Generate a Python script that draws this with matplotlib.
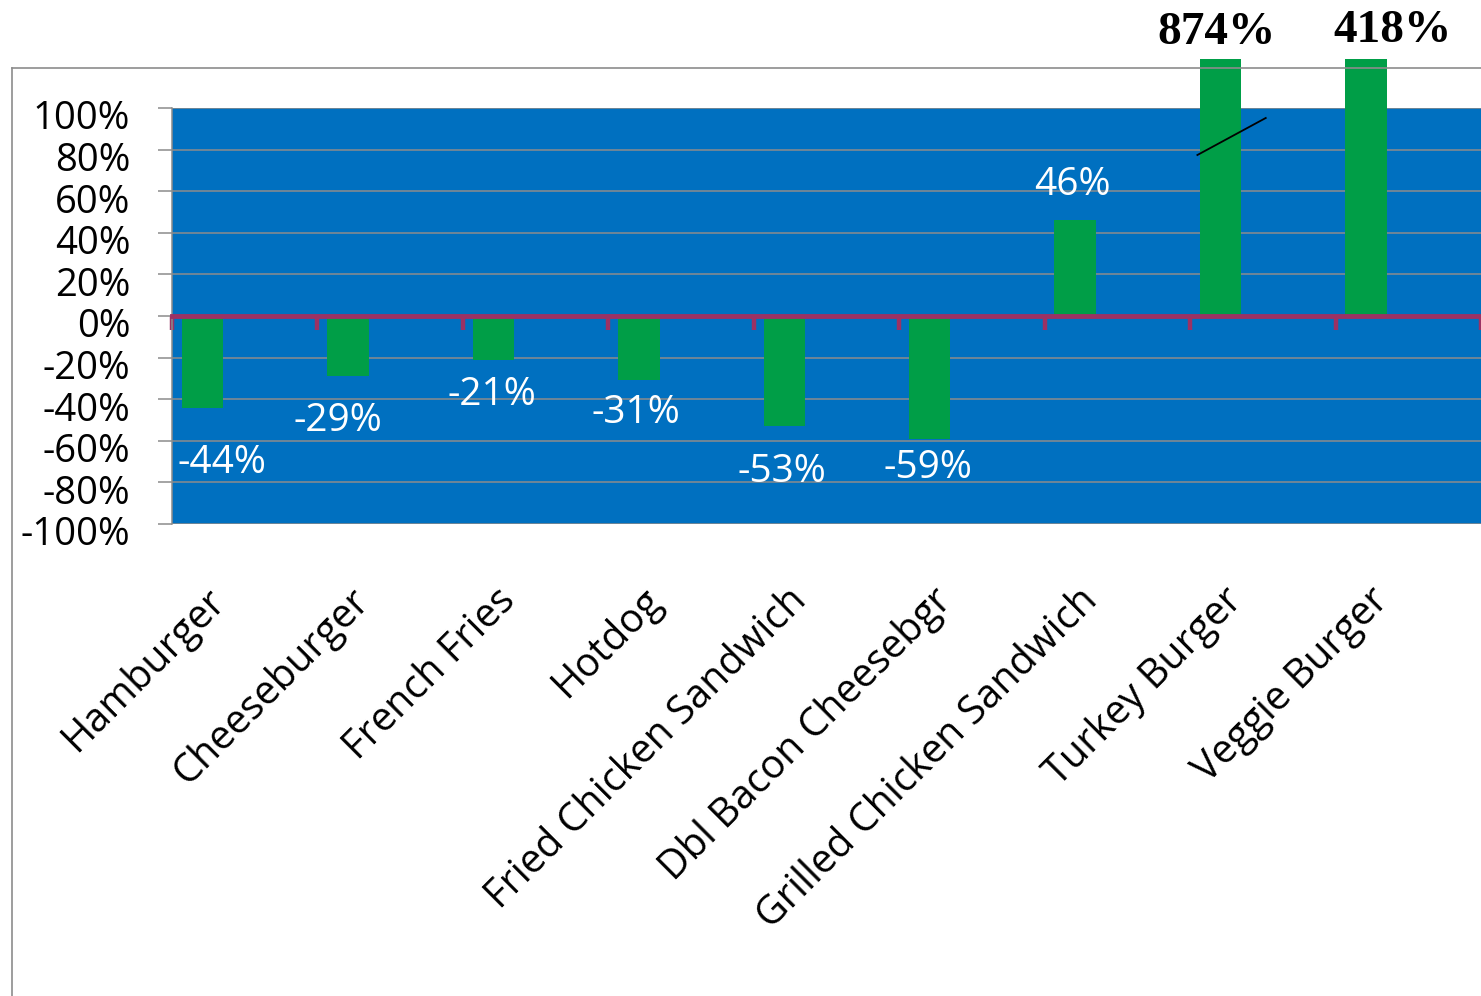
import numpy as np
import matplotlib
matplotlib.use("Agg")
import matplotlib.pyplot as plt
from matplotlib.lines import Line2D
from matplotlib.transforms import ScaledTranslation

# data
categories = ["Hamburger", "Cheeseburger", "French Fries", "Hotdog",
              "Fried Chicken Sandwich", "Dbl Bacon Cheesebgr",
              "Grilled Chicken Sandwich", "Turkey Burger", "Veggie Burger"]
changes = [-0.44, -0.29, -0.21, -0.31, -0.53, -0.59, 0.46, 8.74, 4.18]
labels = ["-44%", "-29%", "-21%", "-31%", "-53%", "-59%", "46%", "874%", "418%"]

# where excel dropped the data labels (offset from category centre, y in data)
label_dx = [-0.16, -0.36, -0.30, -0.31, -0.31, -0.30, -0.31, -0.32, -0.11]
label_y = [-0.705, -0.505, -0.38, -0.465, -0.75, -0.73, 0.63, 1.36, 1.37]

BLUE = "#0070C0"
GREEN = "#009E47"
AXIS = "#9B3264"
GRID = "#8C8C8C"
CAP = 1.235  # big bars are cut off above the plot

plt.rcParams['font.family'] = ['Open Sans', 'DejaVu Sans']

fig = plt.figure(figsize=(14.81, 9.96), dpi=100)
ax = fig.add_axes([172/1481, 1 - 524/996, 1 - 172/1481, 416/996])
ax.set_facecolor(BLUE)

x = np.arange(len(categories))
heights = np.minimum(np.array(changes), CAP)
ax.bar(x - 0.29, heights, width=0.285, color=GREEN, zorder=3, clip_on=False)

ax.set_xlim(-0.5, len(categories) - 0.5)
ax.set_ylim(-1, 1)
yt = np.linspace(-1, 1, 11)
ax.set_yticks(yt)
ax.set_yticklabels([f"{int(round(v*100))}%" for v in yt], fontsize=27.5)
ax.yaxis.grid(True, color=GRID, lw=1.1, zorder=1)
ax.tick_params(axis='y', length=10, color=GRID, width=1.1, pad=20)
shift = ScaledTranslation(0, -5/72, fig.dpi_scale_trans)
for lab in ax.get_yticklabels():
    lab.set_transform(lab.get_transform() + shift)

# zero line with ticks between categories
ax.spines['bottom'].set_position(('data', 0))
ax.spines['bottom'].set_color(AXIS)
ax.spines['bottom'].set_linewidth(3.5)
ax.spines['bottom'].set_zorder(4)
ax.set_xticks(np.arange(-0.5, len(categories) + 0.5, 1))
ax.set_xticklabels([])
ax.tick_params(axis='x', length=10, width=3.2, color=AXIS, direction='out')
for s in ['top', 'right']:
    ax.spines[s].set_visible(False)
ax.spines['left'].set_color(GRID)
ax.spines['left'].set_linewidth(1.1)

# category labels below the plot
for i, c in enumerate(categories):
    ax.text(i - 0.08, -1.27, c, rotation=45, ha='right', va='top',
            fontsize=28.5, clip_on=False)

# data labels
for i, (lab, dx, ly) in enumerate(zip(labels, label_dx, label_y)):
    if changes[i] > CAP:
        ax.text(i + dx, ly, lab, ha='center', va='center', fontsize=34,
                fontweight='bold', family='Liberation Serif', color='black',
                clip_on=False)
    else:
        ax.text(i + dx, ly, lab, ha='center', va='center', fontsize=28,
                color='white', clip_on=False, zorder=5)

# break mark on the turkey burger bar
t = categories.index("Turkey Burger")
ax.plot([t - 0.45, t + 0.02], [0.774, 0.952], color='black', lw=1.3,
        zorder=5, clip_on=False)

# chart frame
fig.add_artist(Line2D([12/1481, 12/1481], [0, 1 - 68/996], color=GRID, lw=1.2))
fig.add_artist(Line2D([12/1481, 1], [1 - 68/996, 1 - 68/996], color=GRID, lw=1.2))

fig.savefig("out.png", dpi=100, facecolor='white')
